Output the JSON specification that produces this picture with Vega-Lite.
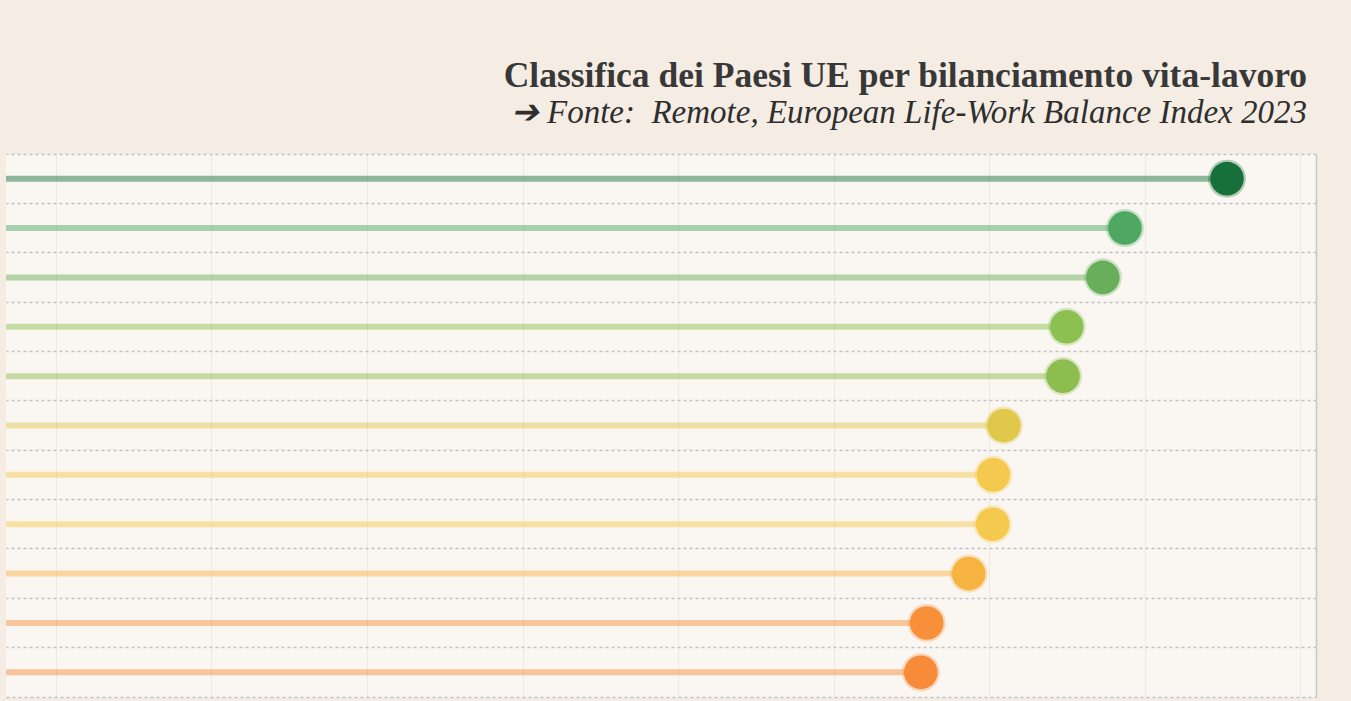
{
  "$schema": "https://vega.github.io/schema/vega-lite/v6.json",
  "width": 1310,
  "height": 543,
  "padding": {"left": 3, "top": 58, "right": 35, "bottom": 10},
  "background": "#f5ede3",
  "title": {
    "text": "Classifica dei Paesi UE per bilanciamento vita-lavoro",
    "subtitle": "➔ Fonte:\u00a0 Remote, European Life-Work Balance Index 2023",
    "anchor": "end",
    "dx": -9,
    "offset": 24,
    "font": "Liberation Serif",
    "fontSize": 35.5,
    "fontWeight": "bold",
    "color": "#383838",
    "subtitleFont": "Liberation Serif",
    "subtitleFontSize": 33,
    "subtitleFontStyle": "italic",
    "subtitleColor": "#2e2e2e",
    "subtitlePadding": 3
  },
  "data": {
    "values": [
      {"paese": "Lussemburgo", "indice": 82.64, "base": 43.4},
      {"paese": "Paesi Bassi", "indice": 79.36, "base": 43.4},
      {"paese": "Danimarca", "indice": 78.65, "base": 43.4},
      {"paese": "Germania", "indice": 77.49, "base": 43.4},
      {"paese": "Spagna", "indice": 77.37, "base": 43.4},
      {"paese": "Finlandia", "indice": 75.47, "base": 43.4},
      {"paese": "Belgio", "indice": 75.13, "base": 43.4},
      {"paese": "Francia", "indice": 75.11, "base": 43.4},
      {"paese": "Austria", "indice": 74.34, "base": 43.4},
      {"paese": "Portogallo", "indice": 72.99, "base": 43.4},
      {"paese": "Irlanda", "indice": 72.80, "base": 43.4}
    ]
  },
  "encoding": {
    "x": {
      "field": "indice",
      "type": "quantitative",
      "scale": {"domain": [43.4, 85.5], "nice": false, "zero": false},
      "axis": {
        "title": null,
        "labels": false,
        "ticks": false,
        "values": [45, 50, 55, 60, 65, 70, 75, 80, 85],
        "grid": true,
        "gridColor": "#efe8e2",
        "gridWidth": 1,
        "domain": true,
        "domainColor": "#c2c2c6",
        "domainDash": [3, 3],
        "domainWidth": 1.5
      }
    },
    "y": {
      "field": "paese",
      "type": "nominal",
      "sort": null,
      "scale": {"paddingInner": 0, "paddingOuter": 0},
      "axis": {
        "orient": "right",
        "title": null,
        "labels": false,
        "ticks": false,
        "domain": true,
        "domainColor": "#c9c6c4",
        "domainWidth": 1.5,
        "grid": true,
        "bandPosition": 0,
        "gridColor": "#c2c2c6",
        "gridDash": [3, 3],
        "gridWidth": 1.5
      }
    },
    "color": {
      "field": "paese",
      "type": "nominal",
      "sort": null,
      "legend": null,
      "scale": {
        "domain": ["Lussemburgo", "Paesi Bassi", "Danimarca", "Germania", "Spagna", "Finlandia", "Belgio", "Francia", "Austria", "Portogallo", "Irlanda"],
        "range": ["#17703a", "#4ea862", "#69ae5a", "#8cc152", "#8dbd4e", "#e0c84b", "#f5c94d", "#f5c94d", "#f6b342", "#f8903a", "#f78b3a"]
      }
    }
  },
  "layer": [
    {
      "mark": {"type": "rule", "strokeWidth": 6, "opacity": 0.48, "strokeCap": "butt"},
      "encoding": {
        "x2": {"field": "base"}
      }
    },
    {
      "mark": {"type": "circle", "size": 1450, "opacity": 0.3},
      "encoding": {}
    },
    {
      "mark": {"type": "circle", "size": 1130, "opacity": 1},
      "encoding": {}
    }
  ],
  "config": {
    "view": {"fill": "#faf6f1", "stroke": null}
  }
}
